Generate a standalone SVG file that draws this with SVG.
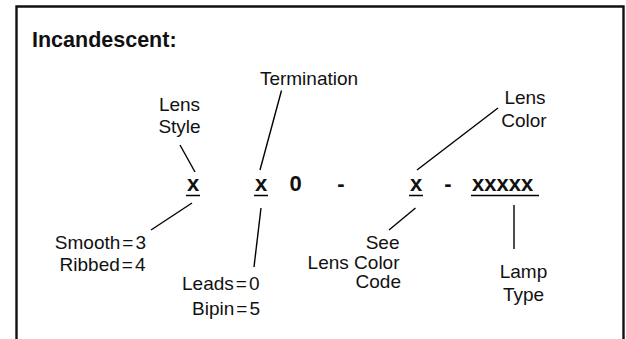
<svg xmlns="http://www.w3.org/2000/svg" width="626" height="339" viewBox="0 0 626 339">
<style>
text{font-family:"Liberation Sans",Arial,sans-serif;fill:#111;font-size:19px}
.t{font-weight:bold;font-size:21.500px}
.b{font-weight:bold;font-size:22px}
.m{text-anchor:middle}
.e{text-anchor:end}
.l{stroke:#000;stroke-width:1.4;fill:none}
</style>
<rect width="626" height="339" fill="#fff"/>
<path id="frame" d="M16.500 339V6.500H623.500V339" fill="none" stroke="#111" stroke-width="2.400"/>
<g id="title"><text class="t" x="32" y="47">Incandescent:</text></g>
<g id="connectors">
<path class="l" d="M180 145L195 172"/>
<path class="l" d="M281.500 90.500L260 170"/>
<path class="l" d="M498 108L417 170"/>
<path class="l" d="M192 203L151 230"/>
<path class="l" d="M261 208L254 267"/>
<path class="l" d="M415.500 208L389 230"/>
<path class="l" d="M514 205V249"/>
<path class="l" d="M186 195.500H200M254 195.500H268M409 195.500H423M471 195.500H539"/>
</g>
<g id="lens-style"><text class="m" x="179.500" y="111">Lens</text><text class="m" x="179.500" y="132.500">Style</text></g>
<g id="termination"><text class="m" x="309" y="85">Termination</text></g>
<g id="lens-color"><text class="m" x="525" y="104">Lens</text><text class="m" x="524" y="127">Color</text></g>
<g id="code"><text class="b m" x="193" y="191">x</text><text class="b m" x="261" y="191">x</text><text class="b m" x="295.500" y="191">0</text><text class="b m" x="341" y="191">-</text><text class="b m" x="416" y="191">x</text><text class="b m" x="448" y="191">-</text><text class="b" x="472" y="191">xxxxx</text></g>
<g id="smooth"><text class="e" x="146" y="249">Smooth<tspan dx="2">=</tspan><tspan dx="2">3</tspan></text><text class="e" x="145.500" y="270.500">Ribbed<tspan dx="2">=</tspan><tspan dx="2">4</tspan></text></g>
<g id="leads"><text class="e" x="259.500" y="290">Leads<tspan dx="2">=</tspan><tspan dx="2">0</tspan></text><text class="e" x="260" y="315">Bipin<tspan dx="2">=</tspan><tspan dx="2">5</tspan></text></g>
<g id="see"><text class="e" x="399.500" y="249">See</text><text class="e" x="399.500" y="269">Lens Color</text><text class="e" x="401" y="288">Code</text></g>
<g id="lamp"><text class="m" x="523.500" y="278">Lamp</text><text class="m" x="523.500" y="301">Type</text></g>
</svg>
